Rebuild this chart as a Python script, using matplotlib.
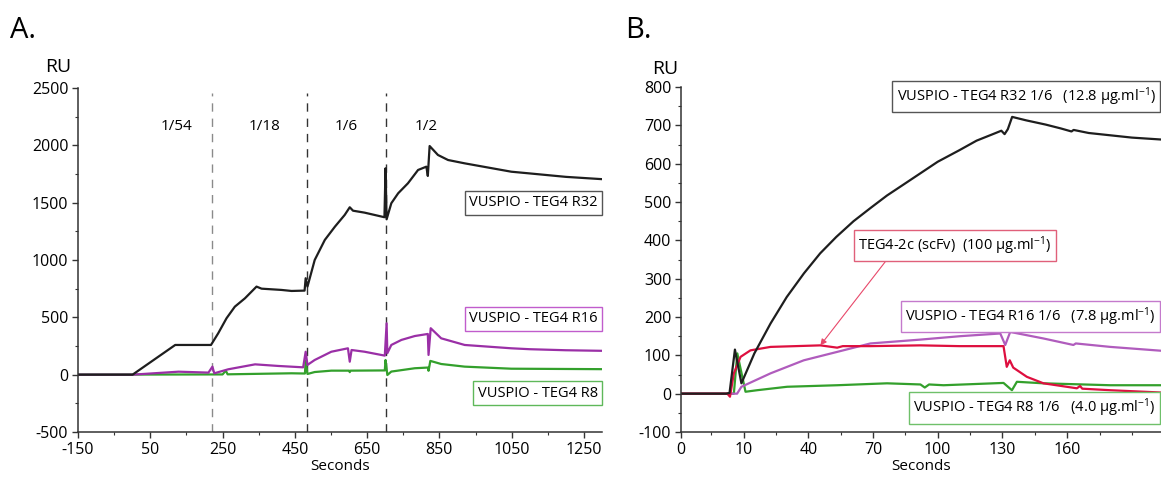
import matplotlib
matplotlib.use("Agg")
import matplotlib.pyplot as plt

plt.rcParams['font.family'] = ['Open Sans', 'DejaVu Sans']
plt.rcParams['mathtext.default'] = 'regular'
plt.rcParams['axes.unicode_minus'] = False

# ---- Panel A data (seconds, RU) ----
a_t_r32 = [-150, 1, 119, 218, 238, 261, 284, 312, 344, 358, 413, 441, 477, 480, 485, 505, 533, 561,
           588, 602, 611, 643, 698, 701, 704, 717, 736, 763, 791, 814, 818, 823, 846, 874, 920,
           1049, 1100, 1150, 1200, 1250, 1300]
a_ru_r32 = [0, 0, 259, 259, 361, 492, 593, 666, 768, 750, 739, 730, 733, 841, 768, 1000, 1175, 1291,
            1393, 1460, 1430, 1413, 1373, 1800, 1355, 1495, 1582, 1669, 1785, 1814, 1733, 1994, 1916,
            1872, 1843, 1770, 1755, 1740, 1725, 1715, 1705]

a_t_r16 = [-150, 1, 128, 211, 222, 227, 266, 340, 404, 473, 480, 485, 505, 551, 597, 602, 607, 643,
           699, 704, 706, 717, 745, 782, 818, 820, 826, 855, 920, 1049, 1100, 1200, 1300]
a_ru_r16 = [0, 0, 26, 18, 70, 12, 47, 90, 76, 64, 200, 85, 128, 200, 230, 113, 215, 200,
            166, 448, 187, 259, 303, 337, 355, 172, 405, 317, 259, 230, 222, 213, 208]

a_t_r8 = [-150, 250, 259, 264, 441, 478, 480, 485, 505, 551, 600, 602, 604, 699, 701, 706, 717, 782,
          818, 820, 825, 855, 920, 1049, 1300]
a_ru_r8 = [0, 2, 35, 3, 12, 10, 120, 6, 23, 35, 35, 22, 35, 37, 128, -3, 27, 56,
           62, 34, 120, 93, 70, 52, 48]

a_injections = [220, 484, 701]
a_dilutions = ['1/54', '1/18', '1/6', '1/2']
a_dilution_x = [123, 366, 593, 814]
a_labels = ['VUSPIO - TEG4 R32', 'VUSPIO - TEG4 R16', 'VUSPIO - TEG4 R8']
a_label_y = [1500, 486, -160]

# ---- Panel B data (seconds, RU) ----
b_t_r32 = [-19, 2, 3.5, 6, 9, 15, 22.5, 30, 38, 45.5, 53, 61, 69, 76.5, 84, 92, 100, 110, 118,
           126, 129.5, 131, 132.5, 134.5, 141, 150, 157, 162, 163, 170, 180, 190, 203.5]
b_ru_r32 = [0, 0, 2, 115, 27, 105, 183, 252, 314, 366, 409, 450, 485, 517, 545, 575, 605, 635, 660,
            678, 686, 677, 690, 722, 713, 702, 692, 684, 688, 680, 674, 668, 663]

b_t_scfv = [-19, 2.5, 3.7, 5.5, 8.6, 13.2, 22.5, 45.6, 53.4, 56, 68.8, 91.9, 110, 130.5, 132, 133.4,
            135, 141.3, 149, 164.5, 166, 167, 180, 203.5]
b_ru_scfv = [0, 0, -8, 53, 96, 113, 122, 126, 120, 124, 124, 126, 124, 124, 70, 87,
             68, 44, 27, 14, 20, 13, 9, 3]

b_t_r16 = [-19, 7, 9, 22.5, 37.9, 53.4, 68.8, 91.9, 110.5, 129, 131.3, 133.6, 149, 162.9, 164,
           180, 203.5]
b_ru_r16 = [0, 0, 18, 53, 87, 109, 131, 141, 150, 157, 127, 161, 144, 127, 131,
            122, 112]

b_t_r8 = [-19, 5.5, 7.1, 10.9, 16.3, 30.2, 53.4, 76.5, 92, 94, 96, 102.7, 130.5, 134.4, 136.7,
          149, 180, 203.5]
b_ru_r8 = [0, 0, 105, 5, 9, 18, 22, 27, 24, 16, 24, 22, 28, 9, 31, 27, 22, 22]

b_xticks = [-19, 10, 40, 70, 100, 130, 160]
b_xticklabels = ['0', '10', '40', '70', '100', '130', '160']
b_labels = ['VUSPIO - TEG4 R32 1/6   (12.8 µg.ml$^{-1}$)',
            'TEG4-2c (scFv)  (100 µg.ml$^{-1}$)',
            'VUSPIO - TEG4 R16 1/6   (7.8 µg.ml$^{-1}$)',
            'VUSPIO - TEG4 R8 1/6   (4.0 µg.ml$^{-1}$)']

c_black = '#1e1e1e'
c_purple = '#9a2fa6'
c_purple_b = '#b05cbd'
c_green = '#33a02c'
c_red = '#de0f3f'

fig = plt.figure(figsize=(11.61, 4.82), dpi=100)
axA = fig.add_axes([78 / 1161, 50 / 482, 524 / 1161, 344 / 482])
axB = fig.add_axes([681 / 1161, 50 / 482, 480 / 1161, 345 / 482])

for ax in (axA, axB):
    ax.spines['top'].set_visible(False)
    ax.spines['right'].set_visible(False)
    for s in ('left', 'bottom'):
        ax.spines[s].set_linewidth(1.1)
        ax.spines[s].set_color('#333333')
    ax.tick_params(which='major', direction='out', length=4, width=1, color='#333333',
                   labelsize=11.5, pad=3)
    ax.tick_params(which='minor', direction='out', length=2.5, width=0.8, color='#333333')
    ax.set_xlabel('Seconds', fontsize=11, labelpad=1)

# ---- Panel A ----
for x in a_injections:
    col = '#8a8a8a' if x == a_injections[0] else '#333333'
    axA.axvline(x, color=col, lw=1, ls=(0, (6, 5)), ymax=0.985)
axA.plot(a_t_r8, a_ru_r8, color=c_green, lw=1.6)
axA.plot(a_t_r16, a_ru_r16, color=c_purple, lw=1.6)
axA.plot(a_t_r32, a_ru_r32, color=c_black, lw=1.6)
for lab, x in zip(a_dilutions, a_dilution_x):
    axA.text(x, 2160, lab, ha='center', va='center', fontsize=11)
for lab, y, ec in zip(a_labels, a_label_y, ['#555555', '#c15ccc', '#5fb85a']):
    axA.text(1288, y, lab, ha='right', va='center', fontsize=10.5,
             bbox=dict(boxstyle='square,pad=0.3', fc='white', ec=ec, lw=1))
axA.set_xlim(-150, 1300)
axA.set_ylim(-500, 2500)
axA.set_xticks(range(-150, 1251, 200))
axA.set_xticks(range(-50, 1300, 200), minor=True)
axA.set_yticks(range(-500, 2501, 500))
axA.set_yticks(range(-250, 2500, 500), minor=True)

# ---- Panel B ----
axB.plot(b_t_r8, b_ru_r8, color=c_green, lw=1.6)
axB.plot(b_t_r16, b_ru_r16, color=c_purple_b, lw=1.6)
axB.plot(b_t_scfv, b_ru_scfv, color=c_red, lw=1.6)
axB.plot(b_t_r32, b_ru_r32, color=c_black, lw=1.6)
axB.text(201, 775, b_labels[0], ha='right', va='center', fontsize=10.5,
         bbox=dict(boxstyle='square,pad=0.3', fc='white', ec='#555555', lw=1))
axB.annotate(b_labels[1], xy=(45.6, 126), xytext=(108, 387), ha='center', va='center',
             fontsize=10.5,
             bbox=dict(boxstyle='square,pad=0.3', fc='white', ec='#e0607a', lw=1),
             arrowprops=dict(arrowstyle='-|>', color='#e8486a', lw=0.8,
                             mutation_scale=9, shrinkA=0, shrinkB=0,
                             relpos=(0.16, 0.0)))
axB.text(201, 202, b_labels[2], ha='right', va='center', fontsize=10.5,
         bbox=dict(boxstyle='square,pad=0.3', fc='white', ec='#c47acc', lw=1))
axB.text(201, -37, b_labels[3], ha='right', va='center', fontsize=10.5,
         bbox=dict(boxstyle='square,pad=0.3', fc='white', ec='#6fc06a', lw=1))
axB.set_xlim(-19, 203.5)
axB.set_ylim(-100, 800)
axB.set_xticks(b_xticks)
axB.set_xticklabels(b_xticklabels)
axB.set_xticks([-5, 25, 55, 85, 115, 145, 175, 190], minor=True)
axB.set_yticks(range(-100, 801, 100))
axB.set_yticks(range(-50, 800, 100), minor=True)

fig.text(58 / 1161, 1 - 67 / 482, 'RU', ha='center', va='center', fontsize=14)
fig.text(665 / 1161, 1 - 69 / 482, 'RU', ha='center', va='center', fontsize=14)
fig.text(10 / 1161, 1 - 30 / 482, 'A.', ha='left', va='center', fontsize=21)
fig.text(625 / 1161, 1 - 30 / 482, 'B.', ha='left', va='center', fontsize=21)

fig.savefig('out.png', dpi=100)
